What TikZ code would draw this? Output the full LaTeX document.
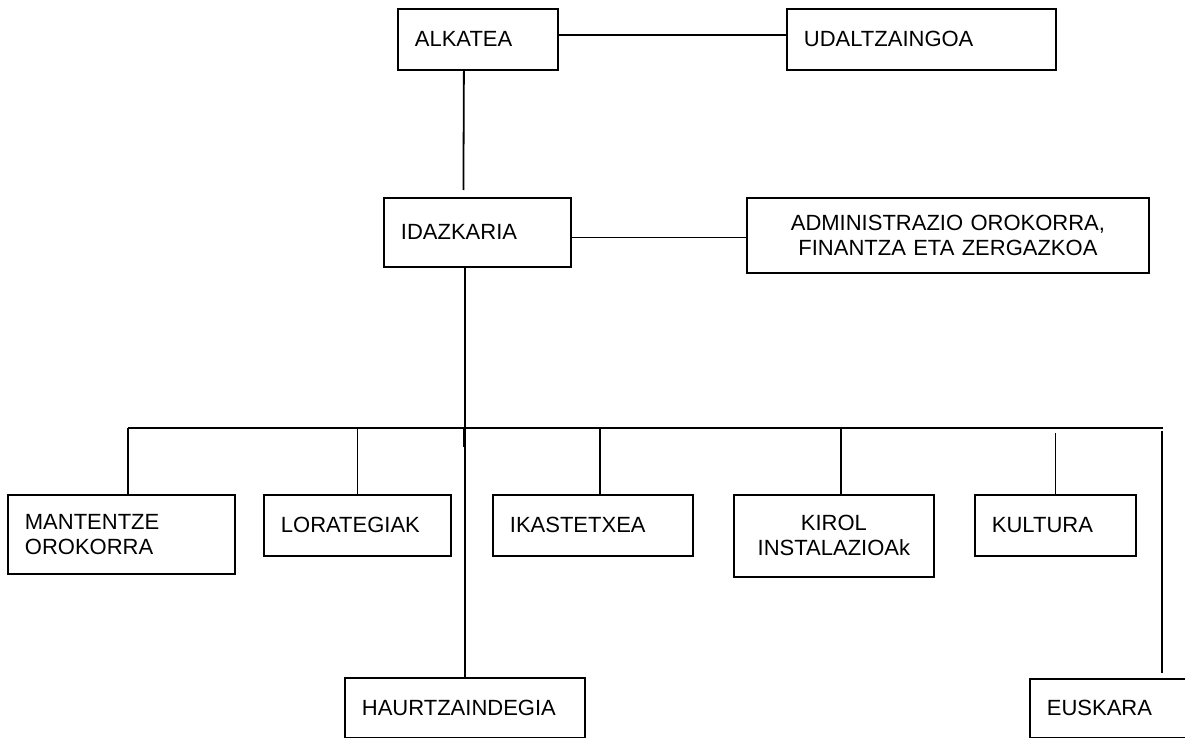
\documentclass[tikz,border=0pt]{standalone}
\usepackage{fontspec}
\setmainfont{Liberation Sans}
\usetikzlibrary{
  calc,
  positioning,
}
\tikzstyle{unit} = [
  draw,
  line width=1.8pt,
  anchor=north west,
  inner xsep=17pt,
  inner ysep=0pt,
  align=left,
  font=\fontsize{22}{25}\selectfont,
]

\begin{document}
\begin{tikzpicture}[
      x=1pt, y=-1pt,
      link/.style={line width=1.8pt},
    ]
      \clip (0,0) rectangle (1185,738);
      % top of the chart
      \node [unit, text width=126pt, minimum height=61pt] (alkatea) at (397,8) {ALKATEA};
      \node [unit, text width=235pt, minimum height=61pt] (udaltzaingoa) at (786,8) {UDALTZAINGOA};
      \node [unit, text width=153pt, minimum height=69pt] (idazkaria) at (383,197) {IDAZKARIA};
      \node [unit, align=center, text width=368pt, minimum height=75pt] (administrazioa) at (746,197) {ADMINISTRAZIO OROKORRA,\\FINANTZA ETA ZERGAZKOA};
      % departments
      \node [unit, text width=193pt, minimum height=79pt] (mantentze) at (7,494) {MANTENTZE\\OROKORRA};
      \node [unit, text width=153pt, minimum height=61pt] (lorategiak) at (263,494) {LORATEGIAK};
      \node [unit, text width=166pt, minimum height=61pt] (ikastetxea) at (492,494) {IKASTETXEA};
      \node [unit, align=center, text width=166pt, minimum height=82pt] (kirol) at (733,494) {KIROL\\INSTALAZIOAk};
      \node [unit, text width=127pt, minimum height=61pt] (kultura) at (974,494) {KULTURA};
      \node [unit, text width=206pt, minimum height=60pt] (haurtzaindegia) at (344,677) {HAURTZAINDEGIA};
      \node [unit, text width=146pt, minimum height=59pt] (euskara) at (1029,678) {EUSKARA};
      \coordinate (busL) at (128,428);
      \coordinate (busR) at (1163,428);
      \coordinate (euskaraTop) at (1162,431);
      % connectors
      \draw [link] ([yshift=4pt]alkatea.east) -- ([yshift=4pt]alkatea.east -| udaltzaingoa.west);
      \draw [link] ([xshift=-14pt]alkatea.south) -- ([xshift=-14pt, yshift=7pt]idazkaria.north);
      \draw [link] ([yshift=-5pt]idazkaria.east) -- ([yshift=-5pt]idazkaria.east -| administrazioa.west);
      \draw [link] (haurtzaindegia.north |- idazkaria.south) -- (haurtzaindegia.north);
      \draw [link, line width=2.8pt] ([xshift=-0.5pt]haurtzaindegia.north |- busL) -- ++(0,19);
      \draw [link] (busL) -- (busR);
      \draw [link] (busL) -- (busL |- mantentze.north);
      \draw [link] (lorategiak.north |- busL) -- (lorategiak.north);
      \draw [link] ([xshift=7pt]ikastetxea.north |- busL) -- ([xshift=7pt]ikastetxea.north);
      \draw [link] ([xshift=7pt]kirol.north |- busL) -- ([xshift=7pt]kirol.north);
      \draw [link] ([yshift=-5pt]kultura.north |- busL) -- (kultura.north);
      \draw [link] (euskaraTop) -- ([yshift=5pt]euskaraTop |- euskara.north);
    \end{tikzpicture}
\end{document}
